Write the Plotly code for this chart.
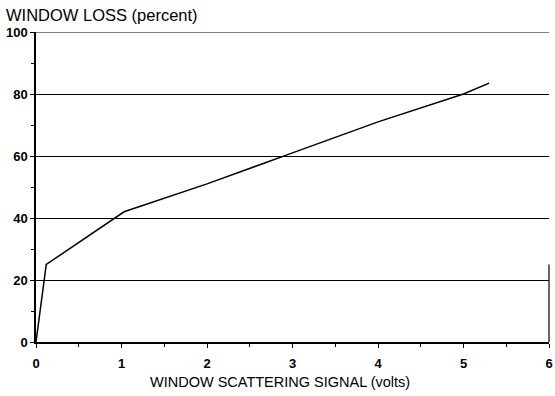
import plotly.graph_objects as go

signal_volts = [0.0, 0.12, 1.03, 2.0, 3.0, 4.0, 5.0, 5.3]
loss_percent = [0.0, 25.0, 42.0, 51.0, 61.0, 71.0, 80.0, 83.5]
x_ticks = [0, 1, 2, 3, 4, 5, 6]
y_ticks = [0, 20, 40, 60, 80, 100]

font_family = "Liberation Sans, Arial, sans-serif"

fig = go.Figure()
fig.add_trace(go.Scatter(x=signal_volts, y=loss_percent, mode="lines",
                         line=dict(color="black", width=1.5), showlegend=False,
                         hoverinfo="skip"))

fig.update_layout(
    width=555, height=396,
    margin=dict(l=36, r=6, t=32, b=54),
    paper_bgcolor="white", plot_bgcolor="white",
    font=dict(family=font_family, color="black"),
    xaxis=dict(range=[0, 6], tickvals=x_ticks, showgrid=False, zeroline=False,
               automargin=False, ticklabeloverflow="allow", ticklabelstandoff=5,
               showline=True, linecolor="black", linewidth=1.5,
               ticks="outside", ticklen=4, tickcolor="black",
               minor=dict(dtick=0.5, ticks="outside", ticklen=3, tickcolor="black"),
               tickfont=dict(size=13, family="Liberation Sans, Arial", weight="bold")),
    yaxis=dict(range=[0, 100], tickvals=y_ticks, showgrid=True, gridcolor="black", gridwidth=1,
               automargin=False, ticklabeloverflow="allow",
               zeroline=False, showline=True, linecolor="black", linewidth=1.5,
               ticks="outside", ticklen=4, tickcolor="black",
               minor=dict(dtick=10, ticks="outside", ticklen=3, tickcolor="black", showgrid=False),
               tickfont=dict(size=13, family="Liberation Sans, Arial", weight="bold")),
)
fig.add_shape(type="line", xref="paper", yref="y", x0=0, x1=1, y0=100, y1=100,
              line=dict(color="black", width=1.2))
fig.add_shape(type="line", xref="paper", yref="y", x0=1, x1=1, y0=0, y1=25,
              line=dict(color="black", width=1.2))
fig.add_annotation(text="WINDOW LOSS (percent)", xref="paper", yref="paper",
                   x=-0.062, y=1.0, yshift=6, xanchor="left", yanchor="bottom",
                   showarrow=False, font=dict(size=16.5, family=font_family))
fig.add_annotation(text="WINDOW SCATTERING SIGNAL (volts)", xref="paper", yref="paper",
                   x=0.476, y=0.0, yshift=-30, xanchor="center", yanchor="top",
                   showarrow=False, font=dict(size=14.5, family=font_family))

fig.write_html("out.html", post_script="document.body.style.margin='0';",
               config={"displayModeBar": False})
